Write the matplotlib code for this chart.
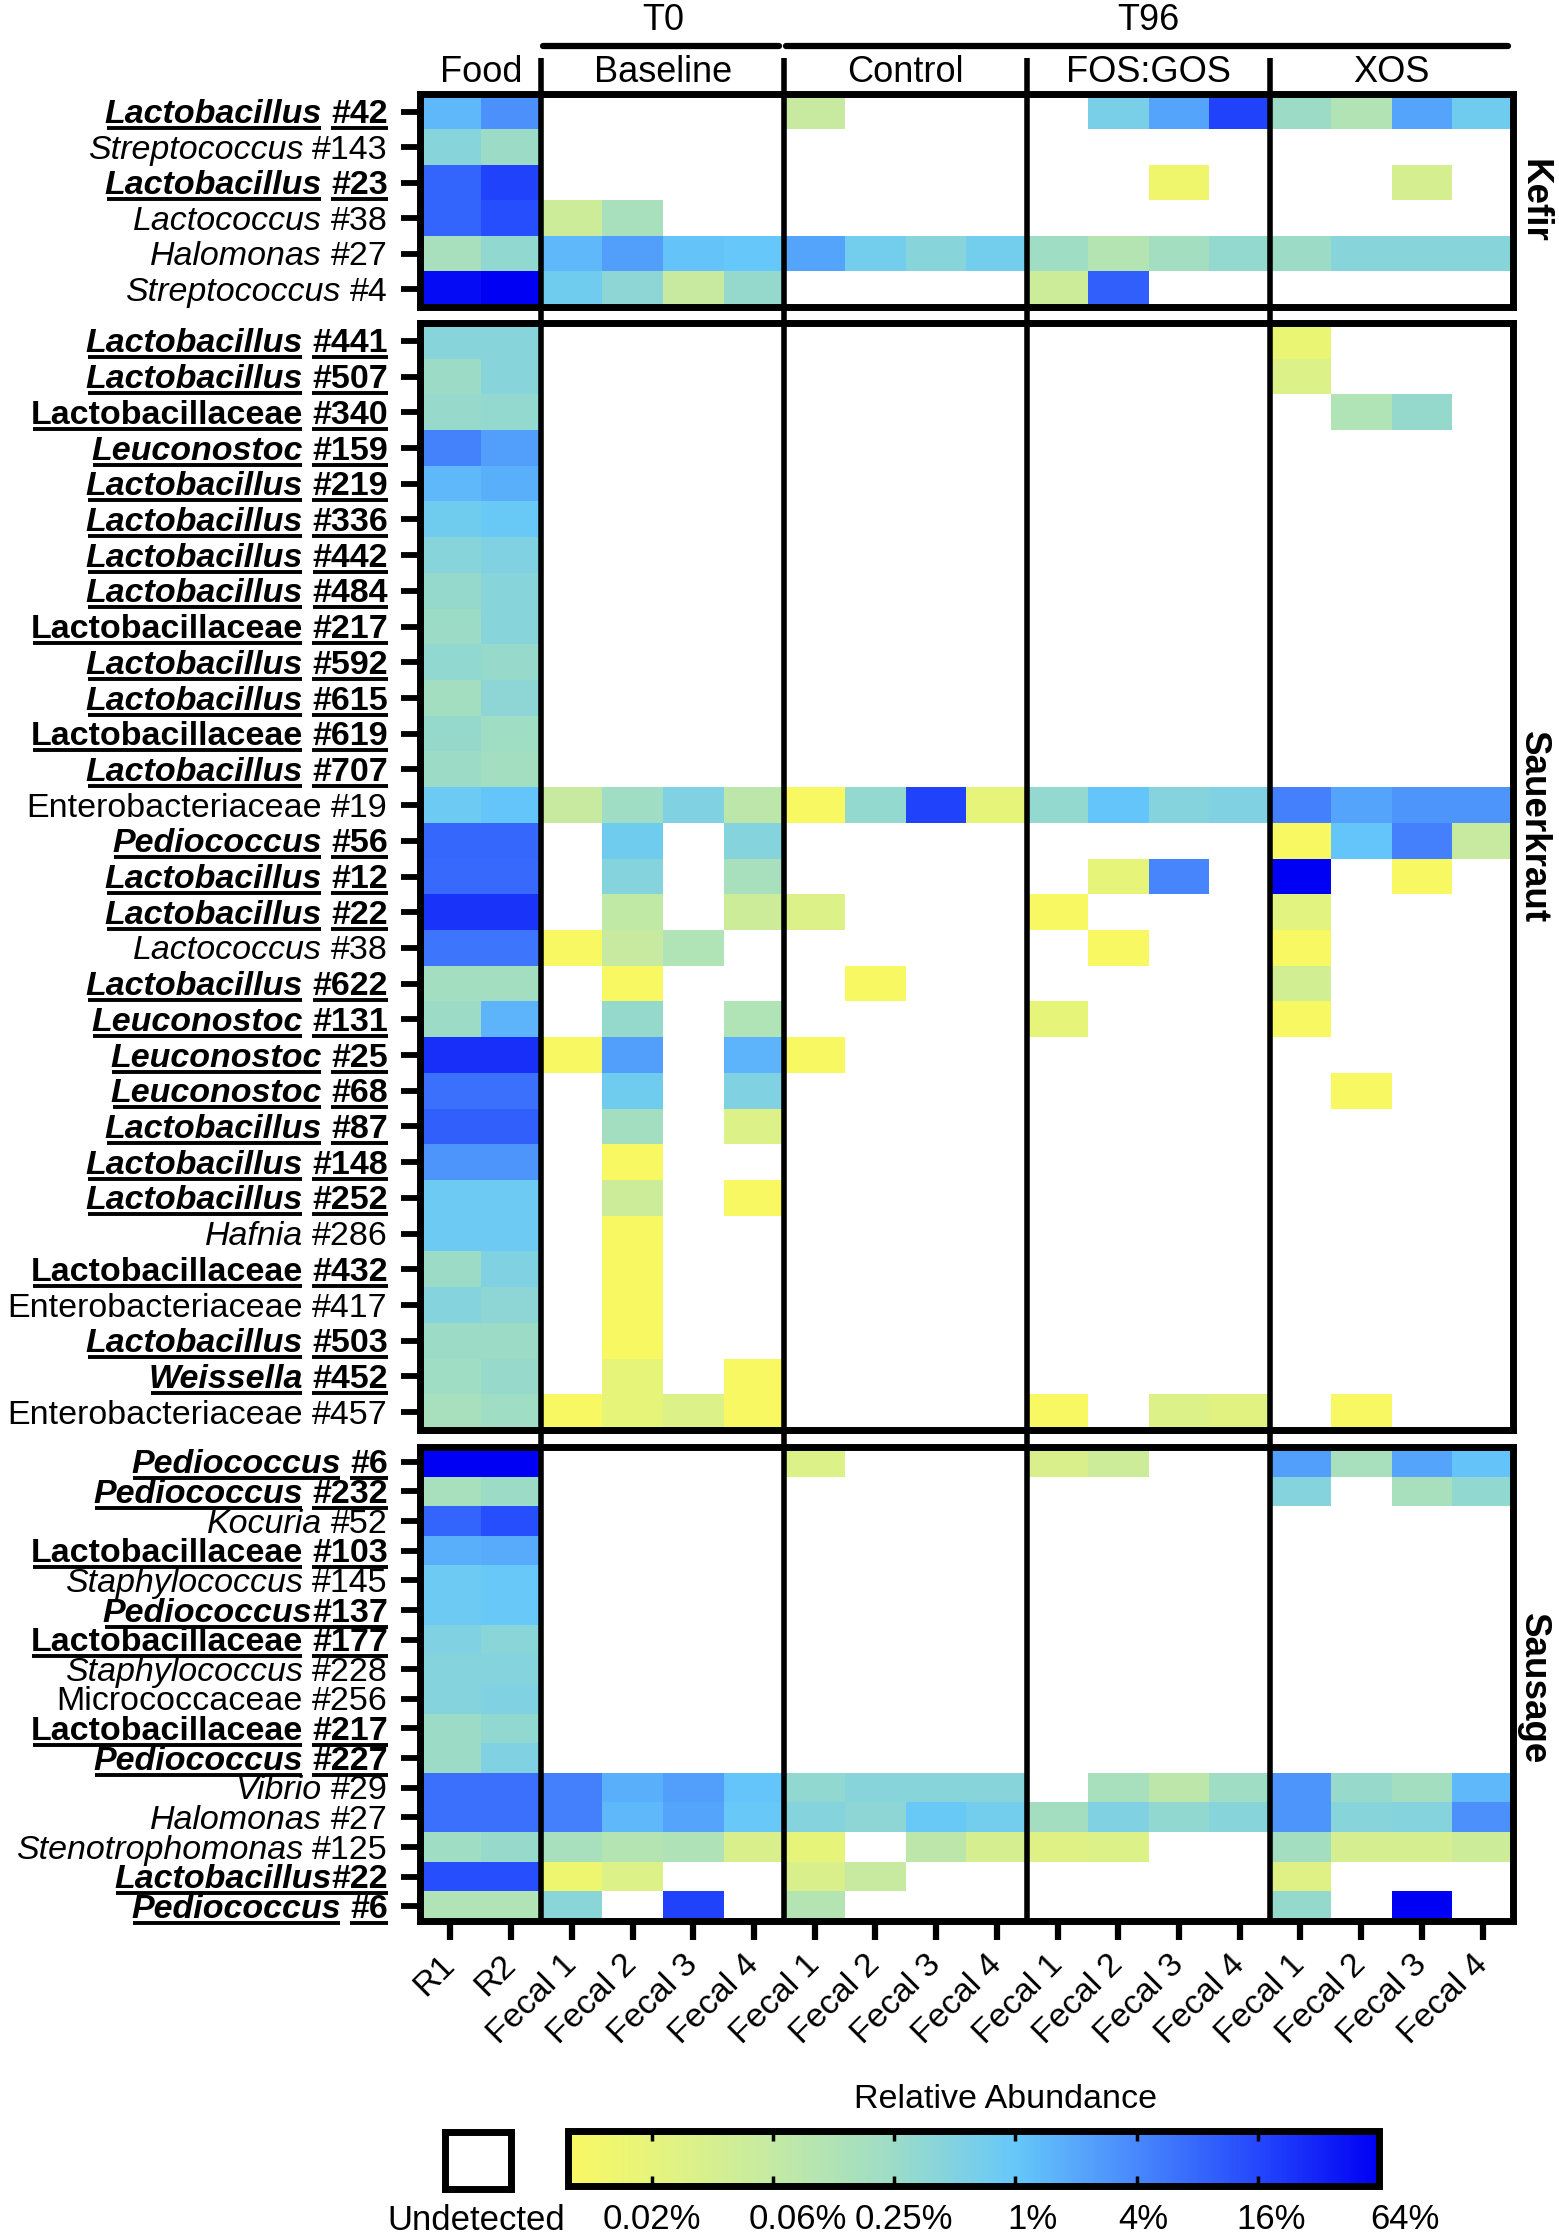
import numpy as np
import matplotlib
matplotlib.use("Agg")
import matplotlib.pyplot as plt
from matplotlib.colors import LinearSegmentedColormap, LogNorm
from matplotlib.transforms import IdentityTransform, ScaledTranslation
from matplotlib.lines import Line2D
from matplotlib.cm import ScalarMappable

plt.rcParams['font.family'] = ['Liberation Sans', 'DejaVu Sans']
N = np.nan

# ---------------- data ----------------
columns = ["R1", "R2"] + ["Fecal 1", "Fecal 2", "Fecal 3", "Fecal 4"] * 4
groups = ["Food", "Baseline", "Control", "FOS:GOS", "XOS"]
group_sizes = [2, 4, 4, 4, 4]
timepoints = ["T0", "T96"]
timepoint_groups = [["Baseline"], ["Control", "FOS:GOS", "XOS"]]

cbar_ticks = [1/64, 1/16, 0.25, 1, 4, 16, 64]
cbar_labels = ["0.02%", "0.06%", "0.25%", "1%", "4%", "16%", "64%"]

# style: gb = genus highlighted (bold italic underlined), fb = family highlighted,
#        g = genus plain italic, f = family plain; trailing "n" = no space before number
kefir_names = ["Lactobacillus", "Streptococcus", "Lactobacillus", "Lactococcus", "Halomonas", "Streptococcus"]
kefir_numbers = ["#42", "#143", "#23", "#38", "#27", "#4"]
kefir_styles = ["gb", "g", "gb", "g", "g", "g"]
kefir_values = [
    [1.4, 3.4,  N, N, N, N,  0.055, N, N, N,  N, 0.6, 2.2, 18,  0.25, 0.12, 2.2, 0.77],
    [0.42, 0.25,  N, N, N, N,  N, N, N, N,  N, N, N, N,  N, N, N, N],
    [8.6, 18,  N, N, N, N,  N, N, N, N,  N, N, 0.009, N,  N, N, 0.032, N],
    [8.6, 13.5,  0.045, 0.165, N, N,  N, N, N, N,  N, N, N, N,  N, N, N, N],
    [0.165, 0.33,  1.4, 2.4, 1.1, 1.0,  2.2, 0.7, 0.42, 0.7,  0.22, 0.11, 0.19, 0.31,  0.25, 0.42, 0.42, 0.42],
    [50, 64,  0.77, 0.36, 0.055, 0.3,  N, N, N, N,  0.045, 9.5, N, N,  N, N, N, N],
]

sauer_names = ["Lactobacillus", "Lactobacillus", "Lactobacillaceae", "Leuconostoc", "Lactobacillus",
               "Lactobacillus", "Lactobacillus", "Lactobacillus", "Lactobacillaceae", "Lactobacillus",
               "Lactobacillus", "Lactobacillaceae", "Lactobacillus", "Enterobacteriaceae", "Pediococcus",
               "Lactobacillus", "Lactobacillus", "Lactococcus", "Lactobacillus", "Leuconostoc",
               "Leuconostoc", "Leuconostoc", "Lactobacillus", "Lactobacillus", "Lactobacillus",
               "Hafnia", "Lactobacillaceae", "Enterobacteriaceae", "Lactobacillus", "Weissella",
               "Enterobacteriaceae"]
sauer_numbers = ["#441", "#507", "#340", "#159", "#219", "#336", "#442", "#484", "#217", "#592",
                 "#615", "#619", "#707", "#19", "#56", "#12", "#22", "#38", "#622", "#131",
                 "#25", "#68", "#87", "#148", "#252", "#286", "#432", "#417", "#503", "#452", "#457"]
sauer_styles = ["gb", "gb", "fb", "gb", "gb", "gb", "gb", "gb", "fb", "gb",
                "gb", "fb", "gb", "f", "gb", "gb", "gb", "g", "gb", "gb",
                "gb", "gb", "gb", "gb", "gb", "g", "fb", "f", "gb", "gb", "f"]
sauer_values = [
    [0.42, 0.42,  N, N, N, N,  N, N, N, N,  N, N, N, N,  0.012, N, N, N],
    [0.25, 0.42,  N, N, N, N,  N, N, N, N,  N, N, N, N,  0.023, N, N, N],
    [0.28, 0.31,  N, N, N, N,  N, N, N, N,  N, N, N, N,  N, 0.125, 0.3, N],
    [4.5, 2.4,  N, N, N, N,  N, N, N, N,  N, N, N, N,  N, N, N, N],
    [1.4, 1.7,  N, N, N, N,  N, N, N, N,  N, N, N, N,  N, N, N, N],
    [0.77, 0.9,  N, N, N, N,  N, N, N, N,  N, N, N, N,  N, N, N, N],
    [0.42, 0.51,  N, N, N, N,  N, N, N, N,  N, N, N, N,  N, N, N, N],
    [0.3, 0.42,  N, N, N, N,  N, N, N, N,  N, N, N, N,  N, N, N, N],
    [0.25, 0.42,  N, N, N, N,  N, N, N, N,  N, N, N, N,  N, N, N, N],
    [0.33, 0.28,  N, N, N, N,  N, N, N, N,  N, N, N, N,  N, N, N, N],
    [0.19, 0.36,  N, N, N, N,  N, N, N, N,  N, N, N, N,  N, N, N, N],
    [0.3, 0.22,  N, N, N, N,  N, N, N, N,  N, N, N, N,  N, N, N, N],
    [0.25, 0.19,  N, N, N, N,  N, N, N, N,  N, N, N, N,  N, N, N, N],
    [0.85, 1.05,  0.055, 0.22, 0.5, 0.08,  0.006, 0.31, 18, 0.015,  0.31, 1.05, 0.45, 0.5,  4.7, 2.2, 3.0, 3.0],
    [8, 8,  N, 0.77, N, 0.45,  N, N, N, N,  N, N, N, N,  0.006, 1.05, 4.7, 0.055],
    [7.6, 7.6,  N, 0.45, N, 0.165,  N, N, N, N,  N, 0.015, 4.2, N,  64, N, 0.006, N],
    [23.5, 23.5,  N, 0.07, N, 0.045,  0.023, N, N, N,  0.006, N, N, N,  0.018, N, N, N],
    [5.9, 5.9,  0.006, 0.055, 0.125, N,  N, N, N, N,  N, 0.006, N, N,  0.006, N, N, N],
    [0.19, 0.19,  N, 0.006, N, N,  N, 0.006, N, N,  N, N, N, N,  0.035, N, N, N],
    [0.25, 1.5,  N, 0.3, N, 0.125,  N, N, N, N,  0.015, N, N, N,  0.006, N, N, N],
    [25, 25,  0.006, 2.4, N, 1.5,  0.006, N, N, N,  N, N, N, N,  N, N, N, N],
    [6.7, 6.7,  N, 0.77, N, 0.51,  N, N, N, N,  N, N, N, N,  N, 0.006, N, N],
    [9.5, 9.5,  N, 0.19, N, 0.023,  N, N, N, N,  N, N, N, N,  N, N, N, N],
    [3.0, 3.0,  N, 0.006, N, N,  N, N, N, N,  N, N, N, N,  N, N, N, N],
    [0.85, 0.85,  N, 0.045, N, 0.006,  N, N, N, N,  N, N, N, N,  N, N, N, N],
    [0.85, 0.85,  N, 0.006, N, N,  N, N, N, N,  N, N, N, N,  N, N, N, N],
    [0.25, 0.51,  N, 0.006, N, N,  N, N, N, N,  N, N, N, N,  N, N, N, N],
    [0.45, 0.36,  N, 0.006, N, N,  N, N, N, N,  N, N, N, N,  N, N, N, N],
    [0.25, 0.25,  N, 0.006, N, N,  N, N, N, N,  N, N, N, N,  N, N, N, N],
    [0.22, 0.28,  N, 0.015, N, 0.006,  N, N, N, N,  N, N, N, N,  N, N, N, N],
    [0.165, 0.22,  0.006, 0.015, 0.023, 0.006,  N, N, N, N,  0.006, N, 0.023, 0.019,  N, 0.006, N, N],
]

saus_names = ["Pediococcus", "Pediococcus", "Kocuria", "Lactobacillaceae", "Staphylococcus",
              "Pediococcus", "Lactobacillaceae", "Staphylococcus", "Micrococcaceae", "Lactobacillaceae",
              "Pediococcus", "Vibrio", "Halomonas", "Stenotrophomonas", "Lactobacillus", "Pediococcus"]
saus_numbers = ["#6", "#232", "#52", "#103", "#145", "#137", "#177", "#228", "#256", "#217",
                "#227", "#29", "#27", "#125", "#22", "#6"]
saus_styles = ["gb", "gb", "g", "fb", "g", "gbn", "fb", "g", "f", "fb",
               "gb", "g", "g", "g", "gbn", "gb"]
saus_values = [
    [64, 64,  N, N, N, N,  0.023, N, N, N,  0.028, 0.045, N, N,  2.4, 0.165, 2.2, 1.1],
    [0.165, 0.25,  N, N, N, N,  N, N, N, N,  N, N, N, N,  0.45, N, 0.165, 0.33],
    [8.6, 13.5,  N, N, N, N,  N, N, N, N,  N, N, N, N,  N, N, N, N],
    [1.7, 1.9,  N, N, N, N,  N, N, N, N,  N, N, N, N,  N, N, N, N],
    [0.85, 0.95,  N, N, N, N,  N, N, N, N,  N, N, N, N,  N, N, N, N],
    [0.85, 0.95,  N, N, N, N,  N, N, N, N,  N, N, N, N,  N, N, N, N],
    [0.51, 0.4,  N, N, N, N,  N, N, N, N,  N, N, N, N,  N, N, N, N],
    [0.45, 0.45,  N, N, N, N,  N, N, N, N,  N, N, N, N,  N, N, N, N],
    [0.45, 0.51,  N, N, N, N,  N, N, N, N,  N, N, N, N,  N, N, N, N],
    [0.25, 0.33,  N, N, N, N,  N, N, N, N,  N, N, N, N,  N, N, N, N],
    [0.25, 0.51,  N, N, N, N,  N, N, N, N,  N, N, N, N,  N, N, N, N],
    [6.7, 6.7,  4.7, 1.7, 2.4, 1.05,  0.33, 0.42, 0.42, 0.42,  N, 0.165, 0.08, 0.22,  3.0, 0.28, 0.19, 1.4],
    [6.7, 6.7,  4.7, 1.4, 2.2, 0.95,  0.45, 0.36, 0.9, 0.7,  0.19, 0.51, 0.33, 0.42,  3.0, 0.42, 0.45, 3.2],
    [0.22, 0.28,  0.165, 0.11, 0.13, 0.028,  0.015, N, 0.08, 0.032,  0.021, 0.023, N, N,  0.19, 0.032, 0.032, 0.045],
    [13.5, 13.5,  0.01, 0.023, N, N,  0.028, 0.055, N, N,  N, N, N, N,  0.021, N, N, N],
    [0.125, 0.125,  0.4, N, 18, N,  0.11, N, N, N,  N, N, N, N,  0.3, N, 64, N],
]

panel_titles = ["Kefir", "Sauerkraut", "Sausage"]

# ---------------- style ----------------
W, H = 1559, 2240
VMIN, VMAX = 0.006, 64
norm = LogNorm(vmin=VMIN, vmax=VMAX)
anchor_vals = [VMIN, 1/64, 1/16, 0.25, 1, 4, 16, 64]
anchor_cols = ["#f8f862", "#e6f47c", "#c4eaa4", "#9cdcc8", "#66c8fa", "#4888fc", "#2448fc", "#0000f4"]
cmap = LinearSegmentedColormap.from_list(
    "abund", [(float(norm(v)), c) for v, c in zip(anchor_vals, anchor_cols)])

FS_LAB = 24.5
BORDER = 5.0
fig = plt.figure(figsize=(W / 100, H / 100), dpi=100)
XL, XR = 420, 1513
L, WD = XL / W, (XR - XL) / W
ncol = len(columns)

panel_px = [(94, 307), (323, 1430), (1447, 1921)]
panel_data = [(kefir_names, kefir_numbers, kefir_styles, kefir_values),
              (sauer_names, sauer_numbers, sauer_styles, sauer_values),
              (saus_names, saus_numbers, saus_styles, saus_values)]
title_y = [0.5, 0.545, 0.49]

axes = []
for k, ((top, bot), (names, nums, styles, vals)) in enumerate(zip(panel_px, panel_data)):
    ax = fig.add_axes([L, 1 - bot / H, WD, (bot - top) / H])
    n = len(vals)
    arr = np.ma.masked_invalid(np.array(vals, dtype=float))
    ax.imshow(arr, cmap=cmap, norm=norm, aspect='auto', interpolation='nearest',
              extent=(0, ncol, n, 0))
    ax.set_xlim(0, ncol)
    ax.set_ylim(n, 0)
    for s in ax.spines.values():
        s.set_linewidth(BORDER)
    ax.set_yticks(np.arange(n) + 0.5)
    ax.set_yticklabels([])
    ax.tick_params(axis='y', length=14, width=4.2, direction='out')
    if k < 2:
        ax.set_xticks([])
    else:
        ax.set_xticks(np.arange(ncol) + 0.5)
        ax.set_xticklabels(columns, rotation=45, ha='right', va='center',
                           rotation_mode='anchor', fontsize=24.5)
        ax.tick_params(axis='x', length=14, width=4.5, direction='out', pad=14)
    ax.text(1.003, title_y[k], panel_titles[k], transform=ax.transAxes, rotation=-90,
            ha='left', va='center', fontsize=26.5, fontweight='bold')
    axes.append(ax)

# header
top_sep = 58
axh = fig.add_axes([L, 1 - 94 / H, WD, 94 / H])
axh.set_xlim(0, ncol)
axh.set_ylim(94, 0)
axh.axis('off')
bounds = np.concatenate([[0], np.cumsum(group_sizes)])
gstart = dict(zip(groups, bounds[:-1]))
gend = dict(zip(groups, bounds[1:]))
for g, a, b in zip(groups, bounds[:-1], bounds[1:]):
    axh.text((a + b) / 2, 72, g, ha='center', va='center', fontsize=26)
for tp, gl in zip(timepoints, timepoint_groups):
    a, b = gstart[gl[0]], gend[gl[-1]]
    axh.plot([a + 0.03, b - 0.08], [46, 46], color='black', lw=4.5,
             solid_capstyle='round', clip_on=False)
    axh.text((a + b) / 2, 20, tp, ha='center', va='center', fontsize=26)

# group separators spanning header and all panels
axs = fig.add_axes([L, 1 - 1923 / H, WD, (1923 - top_sep) / H], zorder=5)
axs.set_xlim(0, ncol)
axs.set_ylim(1923, top_sep)
axs.axis('off')
axs.patch.set_alpha(0)
for b in bounds[1:-1]:
    axs.plot([b, b], [top_sep, 1923], color='black', lw=4, solid_capstyle='butt')

# row labels with underlines
fig.canvas.draw()
rend = fig.canvas.get_renderer()
XLAB = 388
em = FS_LAB * 100 / 72
for ax, (names, nums, styles, vals) in zip(axes, panel_data):
    for i, (nm, num, st) in enumerate(zip(names, nums, styles)):
        yc = ax.transData.transform((0.5, i + 0.5))[1]
        base = yc - 0.34 * em
        bold = 'b' in st
        italic = st.startswith('g')
        nospace = st.endswith('n')
        t_num = fig.text(XLAB, base, num, transform=IdentityTransform(), ha='right',
                         va='baseline', fontsize=FS_LAB,
                         fontweight='bold' if bold else 'normal')
        bbn = t_num.get_window_extent(rend)
        gap = 0 if nospace else 0.278 * em
        t_nm = fig.text(bbn.x0 - gap, base, nm, transform=IdentityTransform(), ha='right',
                        va='baseline', fontsize=FS_LAB,
                        fontweight='bold' if bold else 'normal',
                        fontstyle='italic' if italic else 'normal')
        bbg = t_nm.get_window_extent(rend)
        if bold:
            uy = base - 5
            segs = [(bbg.x0 + 2, bbn.x1)] if nospace else [(bbg.x0 + 2, bbg.x1 - 1), (bbn.x0, bbn.x1)]
            for x0, x1 in segs:
                fig.add_artist(Line2D([x0, x1], [uy, uy], transform=IdentityTransform(),
                                      color='black', lw=2.8, solid_capstyle='butt'))

# colorbar
cax = fig.add_axes([568 / W, 1 - 2186 / H, (1379 - 568) / W, (2186 - 2131) / H])
cb = fig.colorbar(ScalarMappable(norm=norm, cmap=cmap), cax=cax, orientation='horizontal',
                  ticks=cbar_ticks)
cb.set_ticklabels(cbar_labels)
cb.outline.set_linewidth(BORDER)
cax.minorticks_off()
cax.tick_params(which='major', direction='in', length=7, width=2.5, top=True, bottom=True,
                labelsize=25, pad=12)
label_shift_px = [0, 25, 10, 17, 7, 13, 26]
for lbl, dx in zip(cax.get_xticklabels(), label_shift_px):
    lbl.set_transform(lbl.get_transform() + ScaledTranslation(dx / 100, 0, fig.dpi_scale_trans))
fig.text(1006 / W, 1 - 2100 / H, "Relative Abundance", ha='center', va='center', fontsize=24.5)

axu = fig.add_axes([445 / W, 1 - 2189 / H, 66 / W, 57 / H])
axu.set_xticks([])
axu.set_yticks([])
for s in axu.spines.values():
    s.set_linewidth(BORDER)
fig.text(476 / W, 1 - 2220 / H, "Undetected", ha='center', va='center', fontsize=25)

fig.savefig("out.png", dpi=100, facecolor='white')
